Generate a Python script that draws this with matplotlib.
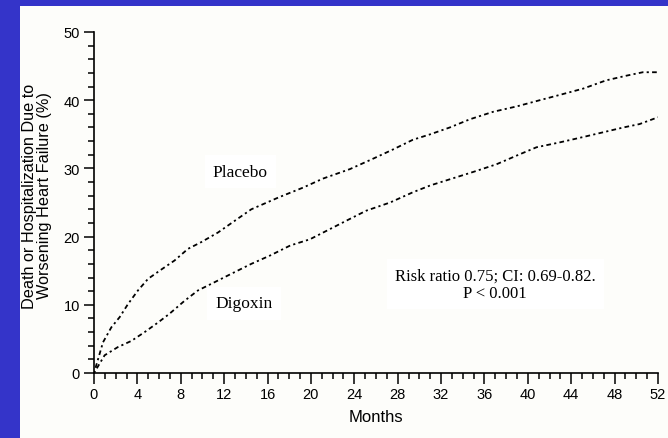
import matplotlib
matplotlib.use("Agg")
import matplotlib.pyplot as plt
from matplotlib.patches import Rectangle

# Cumulative incidence of death or hospitalization due to worsening heart failure
placebo_months = [0, 0.83, 1.6, 2.37, 3.13, 4.05, 4.98, 6.05, 7.43, 8.66, 9.9, 11.43,
                  12.96, 14.5, 17.1, 19.3, 21.1, 23.6, 25.7, 27.6, 29.4, 31.0, 32.8,
                  34.65, 36.8, 39.0, 41.1, 43.0, 45.1, 47.2, 49.1, 50.6, 52]
placebo_pct = [0, 4.5, 6.7, 8.2, 10.1, 12.1, 13.8, 15.0, 16.5, 18.2, 19.2, 20.6,
               22.3, 24.0, 25.8, 27.2, 28.5, 29.9, 31.4, 32.8, 34.2, 35.0, 36.0,
               37.2, 38.3, 39.1, 40.0, 40.8, 41.7, 42.9, 43.6, 44.1, 44.1]

digoxin_months = [0, 0.98, 2.2, 3.44, 4.67, 5.9, 6.97, 8.36, 9.58, 11.1, 12.6, 14.5,
                  16.2, 18.1, 19.9, 21.75, 23.6, 25.1, 27.3, 29.4, 31.0, 32.8, 35.0,
                  37.1, 39.0, 40.8, 42.9, 45.1, 48.8, 50.3, 52]
digoxin_pct = [0, 2.6, 3.8, 4.7, 6.0, 7.4, 8.7, 10.6, 12.1, 13.3, 14.5, 16.0,
               17.2, 18.7, 19.6, 21.1, 22.6, 23.8, 25.0, 26.5, 27.5, 28.4, 29.5,
               30.6, 31.9, 33.1, 33.8, 34.6, 36.0, 36.5, 37.5]

x_ticks = list(range(0, 53, 4))
y_ticks = [0, 10, 20, 30, 40, 50]

W, H = 668, 439
fig = plt.figure(figsize=(W / 100, H / 100), dpi=100)
fig.patch.set_facecolor("#3434C9")
# white panel inset from the blue frame on the left and top
fig.add_artist(Rectangle((20 / W, 0), 1 - 20 / W, 1 - 7 / H,
                         transform=fig.transFigure, facecolor="#FDFDFA",
                         edgecolor="none", zorder=0))

ax = fig.add_axes([94 / W, (H - 374) / H, (658 - 94) / W, (374 - 33) / H])
ax.set_facecolor("none")

dash = (0, (1.2, 1.8, 2.6, 1.8))
ax.plot(placebo_months, placebo_pct, color="black", lw=1.3, linestyle=dash)
ax.plot(digoxin_months, digoxin_pct, color="black", lw=1.3, linestyle=dash)

ax.set_xlim(0, 52)
ax.set_ylim(0, 50)
for s in ("top", "right"):
    ax.spines[s].set_visible(False)
for s in ("left", "bottom"):
    ax.spines[s].set_linewidth(1.2)
    ax.spines[s].set_color("black")

sans = "Liberation Sans"
ax.set_xticks(x_ticks)
ax.set_xticks(range(0, 53), minor=True)
ax.set_yticks(y_ticks)
ax.set_yticks(range(0, 51, 2), minor=True)
ax.tick_params(axis="both", which="major", length=8, width=1.1, direction="out",
               labelsize=10.5, pad=2, colors="black")
ax.tick_params(axis="both", which="minor", length=4.5, width=1.1, direction="out")
ax.tick_params(axis="y", which="major", length=7, pad=3)
for lab in ax.get_xticklabels() + ax.get_yticklabels():
    lab.set_fontfamily(sans)

ax.set_xlabel("Months", fontsize=12, family=sans, labelpad=6)
fig.text(37 / W, 1 - 196 / H,
         "Death or Hospitalization Due to\nWorsening Heart Failure (%)",
         rotation=90, ha="center", va="center", fontsize=11.7, family=sans,
         linespacing=1.05)

box = dict(facecolor="white", edgecolor="none", pad=6)
serif = "Liberation Serif"
ax.text(13.5, 29.5, "Placebo", fontsize=12.5, family=serif, ha="center", va="center", bbox=box)
ax.text(13.8, 10.2, "Digoxin", fontsize=12.5, family=serif, ha="center", va="center", bbox=box)
ax.text(37.0, 13.0, "Risk ratio 0.75; CI: 0.69-0.82.\nP < 0.001", fontsize=12,
        family=serif, ha="center", va="center", linespacing=1.1, bbox=box)

fig.savefig("out.png", dpi=100, facecolor=fig.get_facecolor())
